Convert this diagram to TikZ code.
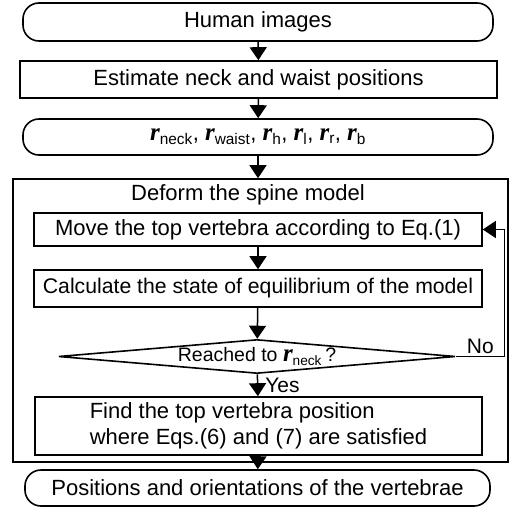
\documentclass[tikz,border=0pt]{standalone}
\usepackage{fontspec}
\setmainfont{Liberation Sans}
\newfontfamily\vecfont{Liberation Serif}
\usetikzlibrary{arrows.meta, shapes.geometric}

\newcommand{\rv}[1]{{\vecfont\fontsize{25}{25}\selectfont\bfseries\itshape r}\textsubscript{#1}}

\tikzset{
  box/.style={draw, line width=1.6pt, inner sep=0pt, minimum height=36pt,
    font=\fontsize{22}{26}\selectfont},
  term/.style={box, rounded corners=16pt},
  frame/.style={draw, line width=1.6pt, inner sep=0pt},
  test/.style={draw, diamond, line width=1.6pt, inner sep=0pt, aspect=11.7,
    minimum width=397pt, minimum height=34pt, font=\fontsize{19.5}{22}\selectfont},
  flow/.style={line width=1.5pt, -{Triangle[width=17pt, length=13pt]}},
  lbl/.style={font=\fontsize{21}{24}\selectfont, inner sep=2pt}
}

\begin{document}
\begin{tikzpicture}[x=1pt, y=-1pt]
  \useasboundingbox (0,0) rectangle (510,511);

  % Inputs and preprocessing
  \node[term, minimum width=470pt, minimum height=38pt] (human) at (258,22) {Human images};
  \node[box, minimum width=477pt, minimum height=37pt] (estimate) at (258.5,79.5) {Estimate neck and waist positions};
  \node[term, minimum width=470pt] (rvec) at (258,137)
    {\rv{neck}, \rv{waist}, \rv{h}, \rv{l}, \rv{r}, \rv{b}};
  \draw[flow] (human) -- (estimate);
  \draw[flow] (estimate) -- (rvec);

  % Spine deformation loop
  \node[frame, minimum width=495pt, minimum height=283pt] (spine) at (260.5,320.5) {};
  \node[box, draw=none] (deform) at (248,195) {Deform the spine model};
  \node[box, minimum width=448pt, minimum height=33pt] (move) at (258,229.5) {Move the top vertebra according to Eq.(1)};
  \node[box, minimum width=448pt, minimum height=37pt, font=\fontsize{21.2}{25}\selectfont] (calc) at (258,288.5) {Calculate the state of equilibrium of the model};
  \node[test] (reach) at (257,356.5) {Reached to \rv{neck}\,?};
  \node[box, minimum width=447pt, minimum height=58pt, align=left] (find) at (258.5,426)
    {Find the top vertebra position\\where Eqs.(6) and (7) are satisfied};
  \draw[flow] (rvec.south) -- (rvec.south |- spine.north);
  \draw[flow] (move) -- (calc);
  \draw[flow] (calc) -- (reach);
  \draw[flow] (reach) -- node[lbl, right=5pt] {Yes} (find);
  \draw[flow] (reach.east) -- node[lbl, above] {No} ++(48,0) |- (move.east);

  % Output
  \node[term, minimum width=465pt] (final) at (257.5,488) {Positions and orientations of the vertebrae};
  \draw[flow] (find) -- (final);
\end{tikzpicture}
\end{document}
